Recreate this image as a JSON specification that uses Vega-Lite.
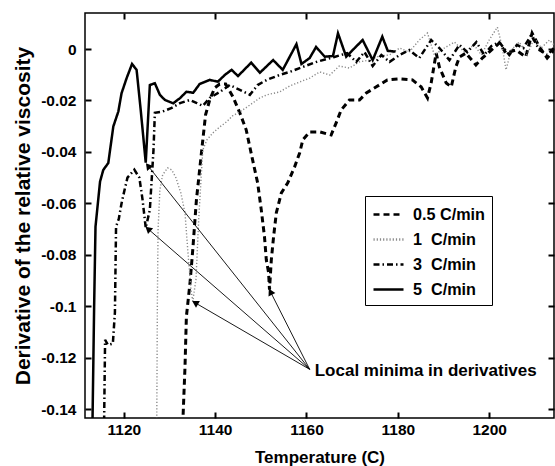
{
  "$schema": "https://vega.github.io/schema/vega-lite/v6.json",
  "width": 469,
  "height": 405,
  "autosize": {"type": "none"},
  "padding": {"left": 85, "top": 13, "right": 1, "bottom": 48},
  "background": "white",
  "config": {
    "view": {"stroke": "black", "strokeWidth": 1.5},
    "font": "Liberation Sans",
    "axis": {
      "grid": false,
      "domain": false,
      "ticks": true,
      "tickColor": "#000000",
      "tickOpacity": 1,
      "tickSize": 6,
      "tickWidth": 2,
      "offset": -6,
      "zindex": 2,
      "labelFont": "Liberation Sans",
      "labelFontWeight": "bold",
      "labelFontSize": 15.5,
      "labelColor": "black",
      "titleFont": "Liberation Sans",
      "titleFontWeight": "bold",
      "titleFontSize": 17,
      "titleColor": "black"
    },
    "legend": {
      "orient": "none",
      "legendX": 280,
      "legendY": 183,
      "strokeColor": "black",
      "fillColor": "white",
      "padding": 7,
      "labelFont": "Liberation Sans",
      "labelFontWeight": "bold",
      "labelFontSize": 16.2,
      "labelColor": "black",
      "symbolType": "M-1,0H2",
      "symbolSize": 400,
      "symbolStrokeWidth": 2.5,
      "labelOffset": 18,
      "rowPadding": 5
    }
  },
  "data": {"name": "curves"},
  "datasets": {
    "curves": [
      {"rate": "0.5 C/min", "T": 1132.9, "d": -0.146},
      {"rate": "0.5 C/min", "T": 1133.4, "d": -0.1234},
      {"rate": "0.5 C/min", "T": 1133.7, "d": -0.104},
      {"rate": "0.5 C/min", "T": 1134.5, "d": -0.0908},
      {"rate": "0.5 C/min", "T": 1135.1, "d": -0.078},
      {"rate": "0.5 C/min", "T": 1135.9, "d": -0.0586},
      {"rate": "0.5 C/min", "T": 1136.6, "d": -0.047},
      {"rate": "0.5 C/min", "T": 1137.3, "d": -0.0353},
      {"rate": "0.5 C/min", "T": 1137.9, "d": -0.0256},
      {"rate": "0.5 C/min", "T": 1138.8, "d": -0.0198},
      {"rate": "0.5 C/min", "T": 1139.9, "d": -0.0151},
      {"rate": "0.5 C/min", "T": 1141.0, "d": -0.0136},
      {"rate": "0.5 C/min", "T": 1142.3, "d": -0.0136},
      {"rate": "0.5 C/min", "T": 1143.9, "d": -0.0186},
      {"rate": "0.5 C/min", "T": 1145.4, "d": -0.0248},
      {"rate": "0.5 C/min", "T": 1146.8, "d": -0.0314},
      {"rate": "0.5 C/min", "T": 1148.2, "d": -0.0431},
      {"rate": "0.5 C/min", "T": 1149.3, "d": -0.052},
      {"rate": "0.5 C/min", "T": 1150.1, "d": -0.0625},
      {"rate": "0.5 C/min", "T": 1150.8, "d": -0.0729},
      {"rate": "0.5 C/min", "T": 1151.2, "d": -0.0819},
      {"rate": "0.5 C/min", "T": 1151.7, "d": -0.0869},
      {"rate": "0.5 C/min", "T": 1151.9, "d": -0.0935},
      {"rate": "0.5 C/min", "T": 1152.3, "d": -0.0819},
      {"rate": "0.5 C/min", "T": 1152.8, "d": -0.0729},
      {"rate": "0.5 C/min", "T": 1153.4, "d": -0.0636},
      {"rate": "0.5 C/min", "T": 1154.5, "d": -0.0559},
      {"rate": "0.5 C/min", "T": 1155.9, "d": -0.052},
      {"rate": "0.5 C/min", "T": 1157.4, "d": -0.0458},
      {"rate": "0.5 C/min", "T": 1158.5, "d": -0.0404},
      {"rate": "0.5 C/min", "T": 1159.2, "d": -0.0353},
      {"rate": "0.5 C/min", "T": 1160.7, "d": -0.0322},
      {"rate": "0.5 C/min", "T": 1162.9, "d": -0.0322},
      {"rate": "0.5 C/min", "T": 1165.4, "d": -0.0334},
      {"rate": "0.5 C/min", "T": 1166.5, "d": -0.0287},
      {"rate": "0.5 C/min", "T": 1167.6, "d": -0.0237},
      {"rate": "0.5 C/min", "T": 1169.4, "d": -0.0198},
      {"rate": "0.5 C/min", "T": 1171.6, "d": -0.0198},
      {"rate": "0.5 C/min", "T": 1173.1, "d": -0.0171},
      {"rate": "0.5 C/min", "T": 1175.3, "d": -0.0147},
      {"rate": "0.5 C/min", "T": 1177.7, "d": -0.012},
      {"rate": "0.5 C/min", "T": 1180.4, "d": -0.0116},
      {"rate": "0.5 C/min", "T": 1183.2, "d": -0.012},
      {"rate": "0.5 C/min", "T": 1185.1, "d": -0.0147},
      {"rate": "0.5 C/min", "T": 1186.5, "d": -0.019},
      {"rate": "0.5 C/min", "T": 1187.3, "d": -0.0132},
      {"rate": "0.5 C/min", "T": 1188.4, "d": -0.0016},
      {"rate": "0.5 C/min", "T": 1189.1, "d": -0.007},
      {"rate": "0.5 C/min", "T": 1190.6, "d": -0.0132},
      {"rate": "0.5 C/min", "T": 1191.7, "d": -0.0147},
      {"rate": "0.5 C/min", "T": 1192.7, "d": -0.007},
      {"rate": "0.5 C/min", "T": 1193.5, "d": -0.0031},
      {"rate": "0.5 C/min", "T": 1194.9, "d": -0.0016},
      {"rate": "0.5 C/min", "T": 1197.1, "d": -0.0062},
      {"rate": "0.5 C/min", "T": 1198.5, "d": -0.0035},
      {"rate": "0.5 C/min", "T": 1200.0, "d": -0.0012},
      {"rate": "0.5 C/min", "T": 1202.2, "d": 0.0023},
      {"rate": "0.5 C/min", "T": 1203.7, "d": -0.0016},
      {"rate": "0.5 C/min", "T": 1205.9, "d": -0.0004},
      {"rate": "0.5 C/min", "T": 1208.0, "d": -0.0031},
      {"rate": "0.5 C/min", "T": 1209.4, "d": 0.0062},
      {"rate": "0.5 C/min", "T": 1211.0, "d": 0.0008},
      {"rate": "0.5 C/min", "T": 1212.7, "d": -0.0035},
      {"rate": "0.5 C/min", "T": 1214.2, "d": -0.0004},

      {"rate": "1 C/min", "T": 1127.2, "d": -0.15},
      {"rate": "1 C/min", "T": 1127.35, "d": -0.0974},
      {"rate": "1 C/min", "T": 1127.5, "d": -0.0702},
      {"rate": "1 C/min", "T": 1127.9, "d": -0.0547},
      {"rate": "1 C/min", "T": 1128.5, "d": -0.0489},
      {"rate": "1 C/min", "T": 1129.6, "d": -0.0462},
      {"rate": "1 C/min", "T": 1130.5, "d": -0.047},
      {"rate": "1 C/min", "T": 1131.4, "d": -0.05},
      {"rate": "1 C/min", "T": 1132.5, "d": -0.056},
      {"rate": "1 C/min", "T": 1133.4, "d": -0.0637},
      {"rate": "1 C/min", "T": 1134.0, "d": -0.078},
      {"rate": "1 C/min", "T": 1134.7, "d": -0.0935},
      {"rate": "1 C/min", "T": 1135.1, "d": -0.098},
      {"rate": "1 C/min", "T": 1135.8, "d": -0.0896},
      {"rate": "1 C/min", "T": 1136.4, "d": -0.0663},
      {"rate": "1 C/min", "T": 1136.9, "d": -0.0508},
      {"rate": "1 C/min", "T": 1137.3, "d": -0.0392},
      {"rate": "1 C/min", "T": 1138.2, "d": -0.0353},
      {"rate": "1 C/min", "T": 1139.5, "d": -0.0326},
      {"rate": "1 C/min", "T": 1141.0, "d": -0.0303},
      {"rate": "1 C/min", "T": 1142.5, "d": -0.0283},
      {"rate": "1 C/min", "T": 1143.8, "d": -0.026},
      {"rate": "1 C/min", "T": 1145.4, "d": -0.0244},
      {"rate": "1 C/min", "T": 1146.7, "d": -0.0229},
      {"rate": "1 C/min", "T": 1148.2, "d": -0.021},
      {"rate": "1 C/min", "T": 1149.8, "d": -0.019},
      {"rate": "1 C/min", "T": 1151.3, "d": -0.0178},
      {"rate": "1 C/min", "T": 1154.1, "d": -0.0167},
      {"rate": "1 C/min", "T": 1156.3, "d": -0.0144},
      {"rate": "1 C/min", "T": 1158.5, "d": -0.0128},
      {"rate": "1 C/min", "T": 1160.7, "d": -0.0113},
      {"rate": "1 C/min", "T": 1162.9, "d": -0.0089},
      {"rate": "1 C/min", "T": 1165.1, "d": -0.0101},
      {"rate": "1 C/min", "T": 1167.2, "d": -0.0066},
      {"rate": "1 C/min", "T": 1169.4, "d": -0.0074},
      {"rate": "1 C/min", "T": 1171.6, "d": -0.005},
      {"rate": "1 C/min", "T": 1173.8, "d": -0.0043},
      {"rate": "1 C/min", "T": 1176.0, "d": -0.0027},
      {"rate": "1 C/min", "T": 1178.2, "d": -0.0023},
      {"rate": "1 C/min", "T": 1180.4, "d": 0.0004},
      {"rate": "1 C/min", "T": 1182.5, "d": -0.0012},
      {"rate": "1 C/min", "T": 1184.7, "d": 0.0035},
      {"rate": "1 C/min", "T": 1186.5, "d": 0.0062},
      {"rate": "1 C/min", "T": 1188.0, "d": -0.0023},
      {"rate": "1 C/min", "T": 1190.2, "d": 0.0004},
      {"rate": "1 C/min", "T": 1192.4, "d": 0.0027},
      {"rate": "1 C/min", "T": 1194.6, "d": -0.0012},
      {"rate": "1 C/min", "T": 1196.7, "d": 0.0016},
      {"rate": "1 C/min", "T": 1198.3, "d": -0.0023},
      {"rate": "1 C/min", "T": 1200.0, "d": 0.0035},
      {"rate": "1 C/min", "T": 1201.8, "d": 0.0085},
      {"rate": "1 C/min", "T": 1202.9, "d": 0.0004},
      {"rate": "1 C/min", "T": 1203.7, "d": -0.0081},
      {"rate": "1 C/min", "T": 1204.8, "d": -0.0004},
      {"rate": "1 C/min", "T": 1206.6, "d": 0.0027},
      {"rate": "1 C/min", "T": 1208.3, "d": -0.0023},
      {"rate": "1 C/min", "T": 1209.9, "d": 0.0043},
      {"rate": "1 C/min", "T": 1211.4, "d": 0.0004},
      {"rate": "1 C/min", "T": 1213.2, "d": 0.0035},
      {"rate": "1 C/min", "T": 1214.2, "d": 0.0016},

      {"rate": "3 C/min", "T": 1115.65, "d": -0.15},
      {"rate": "3 C/min", "T": 1115.9, "d": -0.113},
      {"rate": "3 C/min", "T": 1116.5, "d": -0.115},
      {"rate": "3 C/min", "T": 1117.6, "d": -0.1145},
      {"rate": "3 C/min", "T": 1118.05, "d": -0.1024},
      {"rate": "3 C/min", "T": 1118.3, "d": -0.069},
      {"rate": "3 C/min", "T": 1118.9, "d": -0.066},
      {"rate": "3 C/min", "T": 1119.5, "d": -0.0600},
      {"rate": "3 C/min", "T": 1120.0, "d": -0.0560},
      {"rate": "3 C/min", "T": 1120.8, "d": -0.050},
      {"rate": "3 C/min", "T": 1122.3, "d": -0.0469},
      {"rate": "3 C/min", "T": 1123.4, "d": -0.050},
      {"rate": "3 C/min", "T": 1124.1, "d": -0.0585},
      {"rate": "3 C/min", "T": 1124.8, "d": -0.0695},
      {"rate": "3 C/min", "T": 1125.7, "d": -0.0625},
      {"rate": "3 C/min", "T": 1126.1, "d": -0.0508},
      {"rate": "3 C/min", "T": 1126.5, "d": -0.0392},
      {"rate": "3 C/min", "T": 1126.8, "d": -0.0248},
      {"rate": "3 C/min", "T": 1128.3, "d": -0.0244},
      {"rate": "3 C/min", "T": 1130.5, "d": -0.0229},
      {"rate": "3 C/min", "T": 1132.3, "d": -0.021},
      {"rate": "3 C/min", "T": 1134.5, "d": -0.0198},
      {"rate": "3 C/min", "T": 1136.0, "d": -0.021},
      {"rate": "3 C/min", "T": 1137.3, "d": -0.0221},
      {"rate": "3 C/min", "T": 1138.8, "d": -0.019},
      {"rate": "3 C/min", "T": 1141.0, "d": -0.0167},
      {"rate": "3 C/min", "T": 1143.2, "d": -0.014},
      {"rate": "3 C/min", "T": 1145.4, "d": -0.0159},
      {"rate": "3 C/min", "T": 1147.6, "d": -0.0178},
      {"rate": "3 C/min", "T": 1149.3, "d": -0.014},
      {"rate": "3 C/min", "T": 1151.3, "d": -0.012},
      {"rate": "3 C/min", "T": 1154.1, "d": -0.0101},
      {"rate": "3 C/min", "T": 1156.3, "d": -0.0089},
      {"rate": "3 C/min", "T": 1158.5, "d": -0.0074},
      {"rate": "3 C/min", "T": 1162.2, "d": -0.005},
      {"rate": "3 C/min", "T": 1166.1, "d": -0.0031},
      {"rate": "3 C/min", "T": 1168.9, "d": -0.0016},
      {"rate": "3 C/min", "T": 1170.9, "d": -0.005},
      {"rate": "3 C/min", "T": 1172.7, "d": -0.0012},
      {"rate": "3 C/min", "T": 1174.5, "d": -0.0066},
      {"rate": "3 C/min", "T": 1176.4, "d": -0.0023},
      {"rate": "3 C/min", "T": 1178.2, "d": -0.005},
      {"rate": "3 C/min", "T": 1180.4, "d": -0.0023},
      {"rate": "3 C/min", "T": 1182.5, "d": -0.0004},
      {"rate": "3 C/min", "T": 1184.7, "d": -0.0035},
      {"rate": "3 C/min", "T": 1187.3, "d": 0.0035},
      {"rate": "3 C/min", "T": 1189.1, "d": 0.0004},
      {"rate": "3 C/min", "T": 1191.3, "d": -0.0043},
      {"rate": "3 C/min", "T": 1193.5, "d": 0.0016},
      {"rate": "3 C/min", "T": 1195.2, "d": -0.0012},
      {"rate": "3 C/min", "T": 1197.2, "d": 0.0027},
      {"rate": "3 C/min", "T": 1198.9, "d": -0.0023},
      {"rate": "3 C/min", "T": 1200.5, "d": 0.0012},
      {"rate": "3 C/min", "T": 1202.2, "d": 0.0027},
      {"rate": "3 C/min", "T": 1204.4, "d": -0.0023},
      {"rate": "3 C/min", "T": 1206.1, "d": 0.0016},
      {"rate": "3 C/min", "T": 1207.5, "d": 0.0004},
      {"rate": "3 C/min", "T": 1209.2, "d": 0.0054},
      {"rate": "3 C/min", "T": 1211.0, "d": -0.0004},
      {"rate": "3 C/min", "T": 1212.7, "d": -0.0023},
      {"rate": "3 C/min", "T": 1214.2, "d": 0.0004},

      {"rate": "5 C/min", "T": 1113.1, "d": -0.15},
      {"rate": "5 C/min", "T": 1113.5, "d": -0.1},
      {"rate": "5 C/min", "T": 1113.8, "d": -0.069},
      {"rate": "5 C/min", "T": 1114.8, "d": -0.0515},
      {"rate": "5 C/min", "T": 1115.5, "d": -0.047},
      {"rate": "5 C/min", "T": 1116.6, "d": -0.0443},
      {"rate": "5 C/min", "T": 1117.7, "d": -0.0301},
      {"rate": "5 C/min", "T": 1118.8, "d": -0.0243},
      {"rate": "5 C/min", "T": 1119.5, "d": -0.0172},
      {"rate": "5 C/min", "T": 1120.6, "d": -0.0114},
      {"rate": "5 C/min", "T": 1121.8, "d": -0.0058},
      {"rate": "5 C/min", "T": 1122.8, "d": -0.0081},
      {"rate": "5 C/min", "T": 1123.7, "d": -0.0237},
      {"rate": "5 C/min", "T": 1124.8, "d": -0.0442},
      {"rate": "5 C/min", "T": 1125.7, "d": -0.014},
      {"rate": "5 C/min", "T": 1126.8, "d": -0.0133},
      {"rate": "5 C/min", "T": 1127.9, "d": -0.0178},
      {"rate": "5 C/min", "T": 1129.0, "d": -0.0198},
      {"rate": "5 C/min", "T": 1130.8, "d": -0.0211},
      {"rate": "5 C/min", "T": 1132.3, "d": -0.0191},
      {"rate": "5 C/min", "T": 1133.7, "d": -0.0166},
      {"rate": "5 C/min", "T": 1135.2, "d": -0.017},
      {"rate": "5 C/min", "T": 1136.6, "d": -0.0136},
      {"rate": "5 C/min", "T": 1138.8, "d": -0.012},
      {"rate": "5 C/min", "T": 1140.6, "d": -0.0127},
      {"rate": "5 C/min", "T": 1142.1, "d": -0.0101},
      {"rate": "5 C/min", "T": 1143.6, "d": -0.0081},
      {"rate": "5 C/min", "T": 1145.0, "d": -0.0105},
      {"rate": "5 C/min", "T": 1147.9, "d": -0.0053},
      {"rate": "5 C/min", "T": 1149.8, "d": -0.0092},
      {"rate": "5 C/min", "T": 1152.7, "d": -0.0043},
      {"rate": "5 C/min", "T": 1154.8, "d": -0.0081},
      {"rate": "5 C/min", "T": 1157.8, "d": 0.0019},
      {"rate": "5 C/min", "T": 1158.9, "d": -0.0058},
      {"rate": "5 C/min", "T": 1160.7, "d": -0.0035},
      {"rate": "5 C/min", "T": 1162.1, "d": 0.0008},
      {"rate": "5 C/min", "T": 1164.0, "d": -0.003},
      {"rate": "5 C/min", "T": 1165.8, "d": -0.0027},
      {"rate": "5 C/min", "T": 1166.9, "d": 0.0061},
      {"rate": "5 C/min", "T": 1168.7, "d": -0.003},
      {"rate": "5 C/min", "T": 1170.5, "d": 0.0003},
      {"rate": "5 C/min", "T": 1172.3, "d": 0.0035},
      {"rate": "5 C/min", "T": 1174.5, "d": -0.0043},
      {"rate": "5 C/min", "T": 1176.6, "d": 0.0048},
      {"rate": "5 C/min", "T": 1177.8, "d": -0.0007},
      {"rate": "5 C/min", "T": 1179.5, "d": -0.001}
    ],
    "arrows": [
      {"tx": 1160.7, "ty": -0.1245, "hx": 1125.3, "hy": -0.0454},
      {"tx": 1160.7, "ty": -0.1245, "hx": 1125.3, "hy": -0.0699},
      {"tx": 1160.7, "ty": -0.1245, "hx": 1135.6, "hy": -0.0986},
      {"tx": 1160.7, "ty": -0.1245, "hx": 1152.1, "hy": -0.0943}
    ],
    "notes": [
      {"x": 1161.8, "y": -0.1252, "label": "Local minima in derivatives"}
    ]
  },
  "resolve": {"axis": {"x": "independent", "y": "independent"}},
  "layer": [
    {
      "data": {"name": "curves"},
      "transform": [
        {"calculate": "datum.rate == '0.5 C/min' ? 3 : (datum.rate == '1 C/min' ? 1.4 : 2.5)", "as": "sw"}
      ],
      "mark": {"type": "line", "clip": true, "strokeJoin": "miter", "strokeCap": "butt"},
      "encoding": {
        "x": {
          "field": "T", "type": "quantitative",
          "scale": {"domain": [1111.5, 1214.2], "nice": false, "zero": false},
          "axis": {"orient": "bottom", "values": [1120, 1140, 1160, 1180, 1200], "format": "d", "title": "Temperature (C)", "labelPadding": 4, "titlePadding": 12}
        },
        "y": {
          "field": "d", "type": "quantitative",
          "scale": {"domain": [-0.1434, 0.014], "nice": false, "zero": false},
          "axis": {"orient": "left", "values": [0, -0.02, -0.04, -0.06, -0.08, -0.1, -0.12, -0.14], "format": "~g", "labelExpr": "replace(datum.label, '\u2212', '-')", "title": "Derivative of the relative viscosity", "titleFontSize": 21, "labelPadding": 9, "titlePadding": 7}
        },
        "color": {
          "field": "rate", "type": "nominal",
          "scale": {"domain": ["0.5 C/min", "1 C/min", "3 C/min", "5 C/min"], "range": ["#000000", "#8a8a8a", "#000000", "#000000"]},
          "legend": {"title": null, "labelExpr": "(datum.label == '0.5 C/min' ? '0.5\u00a0C/min' : '\u00a0\u00a0' + replace(datum.label, ' ', '\u00a0\u00a0')) + '\u00a0\u00a0\u00a0'"}
        },
        "strokeDash": {
          "field": "rate", "type": "nominal",
          "scale": {"domain": ["0.5 C/min", "1 C/min", "3 C/min", "5 C/min"], "range": [[6, 4], [1.2, 2], [6, 3, 1.5, 3], [1, 0]]},
          "legend": {"title": null, "labelExpr": "(datum.label == '0.5 C/min' ? '0.5\u00a0C/min' : '\u00a0\u00a0' + replace(datum.label, ' ', '\u00a0\u00a0')) + '\u00a0\u00a0\u00a0'"}
        },
        "strokeWidth": {"field": "sw", "type": "quantitative", "scale": null, "legend": null}
      }
    },
    {
      "data": {"name": "arrows"},
      "mark": {"type": "rule", "color": "black", "strokeWidth": 0.9},
      "encoding": {
        "x": {"field": "tx", "type": "quantitative", "scale": {"domain": [1111.5, 1214.2], "nice": false, "zero": false},
          "axis": {"orient": "top", "values": [1120, 1140, 1160, 1180, 1200], "labels": false, "ticks": true, "title": null}},
        "y": {"field": "ty", "type": "quantitative", "scale": {"domain": [-0.1434, 0.014], "nice": false, "zero": false},
          "axis": {"orient": "right", "values": [0, -0.02, -0.04, -0.06, -0.08, -0.1, -0.12, -0.14], "labels": false, "ticks": true, "title": null}},
        "x2": {"field": "hx"},
        "y2": {"field": "hy"}
      }
    },
    {
      "data": {"name": "arrows"},
      "transform": [
        {"calculate": "atan2((datum.hx - datum.tx) * 4.575, (datum.hy - datum.ty) / 0.000388) * 180 / PI", "as": "ang"}
      ],
      "mark": {"type": "point", "shape": "triangle-up", "filled": true, "color": "black", "size": 60, "opacity": 1},
      "encoding": {
        "x": {"field": "hx", "type": "quantitative", "scale": {"domain": [1111.5, 1214.2], "nice": false, "zero": false}, "axis": null},
        "y": {"field": "hy", "type": "quantitative", "scale": {"domain": [-0.1434, 0.014], "nice": false, "zero": false}, "axis": null},
        "angle": {"field": "ang", "type": "quantitative", "scale": null}
      }
    },
    {
      "data": {"name": "notes"},
      "mark": {"type": "text", "align": "left", "baseline": "middle", "font": "Liberation Sans", "fontWeight": "bold", "fontSize": 17, "color": "black"},
      "encoding": {
        "x": {"field": "x", "type": "quantitative", "scale": {"domain": [1111.5, 1214.2], "nice": false, "zero": false}, "axis": null},
        "y": {"field": "y", "type": "quantitative", "scale": {"domain": [-0.1434, 0.014], "nice": false, "zero": false}, "axis": null},
        "text": {"field": "label"}
      }
    }
  ]
}
